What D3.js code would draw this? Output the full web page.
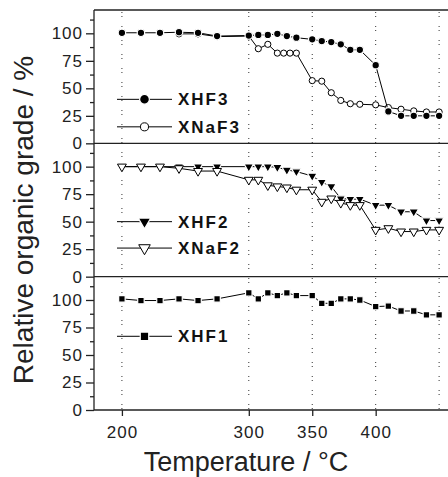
<!DOCTYPE html>
<html>
<head>
<meta charset="utf-8">
<style>
  body { margin: 0; background: #fff; }
  svg { display: block; font-family: "Liberation Sans", Arial, sans-serif; }
  .grid line { stroke: #333; stroke-width: 1; stroke-dasharray: 1,3,1,9; }
  .serie { fill: none; stroke: #000; stroke-width: 1; }
  .frame { stroke: #222; stroke-width: 1.3; }
  .leg { font-size: 17px; font-weight: bold; letter-spacing: 2px; fill: #111; }
  .title { font-size: 27px; fill: #222; }
</style>
</head>
<body>
<svg id="chart" width="448" height="477"></svg>
<script src="https://cdn.jsdelivr.net/npm/d3@7"></script>
<script>
// temperatures (°C)
var temps = [200, 215, 230, 245, 260, 275, 300, 307.5, 315, 322.5, 330, 337.5,
  350, 357.5, 365, 372.5, 380, 387.5, 400, 410, 420, 430, 440, 450];
var tempsNaF3 = [245, 260, 275, 300, 307.5, 315, 322.5, 327.5, 332.5, 337.5,
  350, 357.5, 365, 372.5, 380, 387.5, 400, 410, 420, 430, 440, 450];

// relative organic grade (%)
var xhf3 = [100.5, 100.5, 100.5, 101, 100.5, 97.5, 98, 98.5, 98.5, 99.5, 97.5, 96,
  94.5, 93, 92, 90, 85, 85, 71, 29, 25, 25, 25, 25];
var xnaf3 = [99.5, 99.5, 97, 97.5, 86, 90, 82, 82, 82, 82,
  57, 56.5, 46, 39, 36, 35.5, 35, 32.5, 31, 29.5, 28.5, 28.5];
var xhf2 = [100, 100, 100, 100, 100, 100, 100, 100, 100, 99.5, 97, 95.5,
  91.5, 86, 82, 71, 70.5, 70.5, 65, 65, 59, 59, 51, 51];
var xnaf2 = [100, 100, 100, 98.5, 96, 96, 88, 88, 83, 82, 81, 79,
  79, 68, 71, 67, 65, 65, 42.5, 44, 41, 41, 42.5, 42.5];
var xhf1 = [101, 99.5, 99.5, 101, 99.5, 101, 106.5, 101, 106.5, 104, 106.5, 104,
  104, 97, 97, 101, 101, 100, 94, 94.5, 90, 90, 86.5, 86.5];

var yTicks = [0, 25, 50, 75, 100];
var yMinor = [12.5, 37.5, 62.5, 87.5, 112.5];
var xTicks = [200, 300, 350, 400];
var gridTemps = [200, 300, 350, 400, 450];

var svg = d3.select("#chart"),
  plotLeft = 94, plotTop = 10, plotBottom = 410, plotRight = 448,
  panelH = (plotBottom - plotTop) / 3;

var x = d3.scaleLinear().domain([178, 457]).range([plotLeft, plotRight]);

var panels = [
  { series: [
      { name: "XNaF3", t: tempsNaF3, v: xnaf3, sym: d3.symbolCircle, size: 30, open: true, legY: 15 },
      { name: "XHF3", t: temps, v: xhf3, sym: d3.symbolCircle, size: 44, open: false, legY: 40 }
    ] },
  { series: [
      { name: "XHF2", t: temps, v: xhf2, sym: d3.symbolTriangle, size: 40, open: false, down: true, legY: 50 },
      { name: "XNaF2", t: temps, v: xnaf2, sym: d3.symbolTriangle, size: 34, open: true, down: true, legY: 26 }
    ] },
  { series: [
      { name: "XHF1", t: temps, v: xhf1, sym: d3.symbolSquare, size: 42, open: false, legY: 67 }
    ] }
];

// vertical dotted grid
svg.append("g").attr("class", "grid")
  .selectAll("line").data(gridTemps).enter().append("line")
  .attr("x1", function (d) { return x(d); })
  .attr("x2", function (d) { return x(d); })
  .attr("y1", plotTop + 2).attr("y2", plotBottom);

function marker(g, s, cx, cy, scale) {
  g.append("path")
    .attr("d", d3.symbol().type(s.sym).size(s.size * scale)())
    .attr("transform", "translate(" + cx + "," + cy + ")" + (s.down ? " rotate(180)" : ""))
    .attr("fill", s.open ? "#fff" : "#000")
    .attr("stroke", s.open ? "#000" : "#fff")
    .attr("stroke-width", s.open ? 1 : 1.2);
}

panels.forEach(function (p, i) {
  var y0 = plotTop + i * panelH;
  var y = d3.scaleLinear().domain([0, 121.2]).range([y0 + panelH, y0]);
  var g = svg.append("g");

  // y axis (major + minor ticks)
  var ax = g.append("g")
    .attr("transform", "translate(" + plotLeft + ",0)")
    .call(d3.axisLeft(y).tickValues(yTicks).tickSize(8).tickPadding(3));
  ax.select(".domain").remove();
  ax.selectAll("line").attr("stroke", "#222").attr("stroke-width", 1.3);
  ax.selectAll("text")
    .attr("font-family", "'Liberation Sans', Arial, sans-serif")
    .attr("font-size", 17).attr("letter-spacing", 1).attr("fill", "#222");

  var axm = g.append("g")
    .attr("transform", "translate(" + plotLeft + ",0)")
    .call(d3.axisLeft(y).tickValues(yMinor).tickSize(4).tickFormat(""));
  axm.select(".domain").remove();
  axm.selectAll("line").attr("stroke", "#222").attr("stroke-width", 1.3);

  // panel bottom border
  g.append("line").attr("class", "frame")
    .attr("x1", plotLeft).attr("x2", plotRight)
    .attr("y1", y(0)).attr("y2", y(0));

  var line = d3.line()
    .x(function (d) { return x(d[0]); })
    .y(function (d) { return y(d[1]); });

  p.series.forEach(function (s) {
    var pts = s.t.map(function (t, k) { return [t, s.v[k]]; });
    g.append("path").attr("class", "serie").attr("d", line(pts));
    pts.forEach(function (d) { marker(g, s, x(d[0]), y(d[1]), 1); });

    // legend
    var ly = y(s.legY);
    g.append("line").attr("class", "serie")
      .attr("x1", 117).attr("x2", 172).attr("y1", ly).attr("y2", ly);
    marker(g, s, 144.5, ly, 1.7);
    g.append("text").attr("class", "leg")
      .attr("x", 178).attr("y", ly + 6).text(s.name);
  });
});

// frame: top and left
svg.append("line").attr("class", "frame")
  .attr("x1", plotLeft).attr("x2", plotRight).attr("y1", plotTop).attr("y2", plotTop);
svg.append("line").attr("class", "frame")
  .attr("x1", plotLeft).attr("x2", plotLeft).attr("y1", plotTop).attr("y2", plotBottom);

// x axis
var xa = svg.append("g")
  .attr("transform", "translate(0," + plotBottom + ")")
  .call(d3.axisBottom(x).tickValues(xTicks).tickSize(6).tickPadding(10));
xa.select(".domain").remove();
xa.selectAll("line").attr("stroke", "#222").attr("stroke-width", 1.3);
xa.selectAll("text")
  .attr("font-family", "'Liberation Sans', Arial, sans-serif")
  .attr("font-size", 17).attr("letter-spacing", 1).attr("fill", "#222");

// titles
svg.append("text").attr("class", "title")
  .attr("x", 246).attr("y", 471)
  .attr("text-anchor", "middle")
  .text("Temperature / °C");

svg.append("text").attr("class", "title")
  .attr("transform", "translate(33,220) rotate(-90)")
  .attr("text-anchor", "middle")
  .style("font-size", "28px")
  .text("Relative organic grade / %");
</script>
</body>
</html>
